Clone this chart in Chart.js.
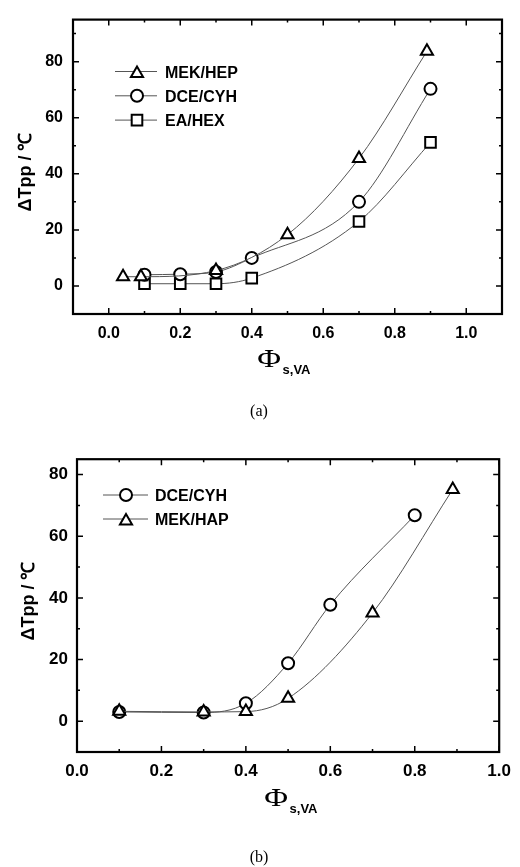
<!DOCTYPE html>
<html><head><meta charset="utf-8">
<script src="https://cdn.jsdelivr.net/npm/chart.js@4/dist/chart.umd.min.js"></script>
<style>
html,body{margin:0;padding:0;background:#fff;width:520px;height:867px;overflow:hidden;position:relative;}
canvas{position:absolute;left:0;}
.ytitle{position:absolute;font:bold 18px "Liberation Sans",Arial,sans-serif;white-space:nowrap;transform:translate(-50%,-50%) rotate(-90deg);color:#000;}
.xtitle{position:absolute;white-space:nowrap;transform:translateX(-50%);color:#000;}
.phi{font:26px "Liberation Serif",serif;display:inline-block;transform:scaleX(1.25);}
.sub{font:bold 13px "Liberation Sans",Arial,sans-serif;position:relative;top:7px;margin-left:4px;}
.cap{position:absolute;font:16px "Liberation Serif",serif;transform:translate(-50%,-50%);color:#000;}
</style></head>
<body>
<canvas id="ca" width="520" height="360" style="top:0"></canvas>
<canvas id="cb" width="520" height="360" style="top:440px"></canvas>
<div class="ytitle" style="left:24px;top:172px">ΔTpp / ℃</div>
<div class="ytitle" style="left:27px;top:601px">ΔTpp / ℃</div>
<div class="xtitle" style="left:285px;top:344px"><span class="phi">Φ</span><span class="sub">s,VA</span></div>
<div class="xtitle" style="left:292px;top:783px"><span class="phi">Φ</span><span class="sub">s,VA</span></div>
<div class="cap" style="left:259px;top:411px">(a)</div>
<div class="cap" style="left:259px;top:857px">(b)</div>
<script>
// ---- data: chart (a) ----
const xA_MEK = [0.04, 0.09, 0.3, 0.5, 0.7, 0.89];
const yA_MEK = [3.3, 3.3, 5.5, 18.3, 45.5, 83.7];
const xA_DCE = [0.1, 0.2, 0.3, 0.4, 0.7, 0.9];
const yA_DCE = [4.0, 4.2, 5.0, 10.0, 30.0, 70.3];
const xA_EA = [0.1, 0.2, 0.3, 0.4, 0.7, 0.9];
const yA_EA = [0.8, 0.8, 0.8, 2.8, 23.0, 51.2];
// ---- data: chart (b) ----
const xB_DCE = [0.1, 0.3, 0.4, 0.5, 0.6, 0.8];
const yB_DCE = [3.0, 2.8, 5.8, 18.8, 37.8, 66.8];
const xB_MEK = [0.1, 0.3, 0.4, 0.5, 0.7, 0.89];
const yB_MEK = [3.2, 3.0, 3.1, 7.4, 35.1, 75.2];
// ---- ticks ----
const xMajor = [0, 0.2, 0.4, 0.6, 0.8, 1.0];
const xMinorA = [-0.1, 0.1, 0.3, 0.5, 0.7, 0.9, 1.1];
const xMinorB = [0.1, 0.3, 0.5, 0.7, 0.9];
const yMajor = [0, 20, 40, 60, 80];
const yMinor = [-10, 10, 30, 50, 70, 90];

const pts = (xs, ys) => xs.map((x, i) => ({x: x, y: ys[i]}));

function ds(label, xs, ys, style, r, order) {
  return {
    label: label, data: pts(xs, ys), showLine: true,
    cubicInterpolationMode: 'monotone',
    borderColor: '#555', borderWidth: 1,
    pointStyle: style, pointRadius: r, pointHoverRadius: r,
    pointBorderColor: '#000', pointBackgroundColor: '#fff', pointBorderWidth: 2,
    order: order, clip: false
  };
}

const framePlugin = {
  id: 'frame',
  afterDatasetsDraw(chart, args, o) {
    const ctx = chart.ctx, a = chart.chartArea;
    const xs = chart.scales.x, ys = chart.scales.y;
    ctx.save();
    ctx.strokeStyle = '#000';
    ctx.lineWidth = 1.5;
    const tick = (vals, len, isX) => {
      vals.forEach(v => {
        ctx.beginPath();
        if (isX) {
          const p = xs.getPixelForValue(v);
          ctx.moveTo(p, a.bottom); ctx.lineTo(p, a.bottom - len);
          ctx.moveTo(p, a.top); ctx.lineTo(p, a.top + len);
        } else {
          const p = ys.getPixelForValue(v);
          ctx.moveTo(a.left, p); ctx.lineTo(a.left + len, p);
          ctx.moveTo(a.right, p); ctx.lineTo(a.right - len, p);
        }
        ctx.stroke();
      });
    };
    tick(o.xMajor, 6, true); tick(o.xMinor, 3, true);
    tick(o.yMajor, 6, false); tick(o.yMinor, 3, false);
    ctx.lineWidth = 2.2;
    ctx.strokeRect(a.left, a.top, a.right - a.left, a.bottom - a.top);
    ctx.restore();
  },
  afterDraw(chart, args, o) {
    const ctx = chart.ctx, L = o.legend;
    ctx.save();
    L.rows.forEach((row, i) => {
      const d = chart.data.datasets[row.ds];
      const y = L.y0 + i * L.dy;
      ctx.strokeStyle = '#555'; ctx.lineWidth = 1;
      ctx.beginPath(); ctx.moveTo(L.x0, y); ctx.lineTo(L.x1, y); ctx.stroke();
      ctx.fillStyle = '#fff'; ctx.strokeStyle = '#000'; ctx.lineWidth = 2;
      Chart.helpers.drawPoint(ctx, {pointStyle: d.pointStyle, radius: d.pointRadius, borderWidth: 2, rotation: 0}, L.xm, y + (d.pointStyle === 'triangle' ? 2 : 0));
      ctx.fillStyle = '#000';
      ctx.font = 'bold 16px "Liberation Sans", Arial, sans-serif';
      ctx.textBaseline = 'alphabetic'; ctx.textAlign = 'left';
      ctx.fillText(d.label, L.xt, y + 6);
    });
    ctx.restore();
  }
};

function makeChart(id, datasets, xmin, xmax, ymin, ymax, yW, xH, pad, tickFont, yPad, xPad, frameOpts) {
  return new Chart(document.getElementById(id), {
    type: 'scatter',
    data: {datasets: datasets},
    options: {
      responsive: false, animation: false, events: [],
      layout: {padding: pad},
      plugins: {legend: {display: false}, tooltip: {enabled: false}, frame: frameOpts},
      scales: {
        x: {
          type: 'linear', min: xmin, max: xmax,
          afterBuildTicks: s => { s.ticks = xMajor.map(v => ({value: v})); },
          afterFit: s => { s.height = xH; },
          grid: {display: true, drawOnChartArea: false, drawTicks: false},
          border: {display: false},
          ticks: {color: '#000', font: {family: '"Liberation Sans", Arial, sans-serif', size: tickFont, weight: 'bold'},
                  padding: xPad, maxRotation: 0, autoSkip: false, callback: v => Number(v).toFixed(1)}
        },
        y: {
          type: 'linear', min: ymin, max: ymax,
          afterBuildTicks: s => { s.ticks = yMajor.map(v => ({value: v})); },
          afterFit: s => { s.width = yW; },
          grid: {display: true, drawOnChartArea: false, drawTicks: false},
          border: {display: false},
          ticks: {color: '#000', font: {family: '"Liberation Sans", Arial, sans-serif', size: tickFont, weight: 'bold'},
                  padding: yPad, autoSkip: false, callback: v => String(v)}
        }
      }
    },
    plugins: [framePlugin]
  });
}

makeChart('ca', [
  ds('MEK/HEP', xA_MEK, yA_MEK, 'triangle', 7, 0),
  ds('DCE/CYH', xA_DCE, yA_DCE, 'circle', 6, 1),
  ds('EA/HEX', xA_EA, yA_EA, 'rect', 7.5, 2)
], -0.1, 1.1, -10, 95, 73, 46, {left: 0, right: 18, top: 14, bottom: 0}, 16, 10, 10,
{xMajor: xMajor, xMinor: xMinorA, yMajor: yMajor, yMinor: yMinor,
 legend: {x0: 115, xm: 137, x1: 157, xt: 165, y0: 71.5, dy: 24.3, rows: [{ds: 0}, {ds: 1}, {ds: 2}]}});

makeChart('cb', [
  ds('DCE/CYH', xB_DCE, yB_DCE, 'circle', 6, 1),
  ds('MEK/HAP', xB_MEK, yB_MEK, 'triangle', 7, 0)
], 0, 1.0, -10, 85, 77, 48, {left: 0, right: 13, top: 12, bottom: 0}, 17, 9, 9,
{xMajor: xMajor, xMinor: xMinorB, yMajor: yMajor, yMinor: [-10, 10, 30, 50, 70],
 legend: {x0: 103, xm: 126, x1: 148, xt: 155, y0: 55, dy: 24, rows: [{ds: 0}, {ds: 1}]}});
</script>
</body></html>
